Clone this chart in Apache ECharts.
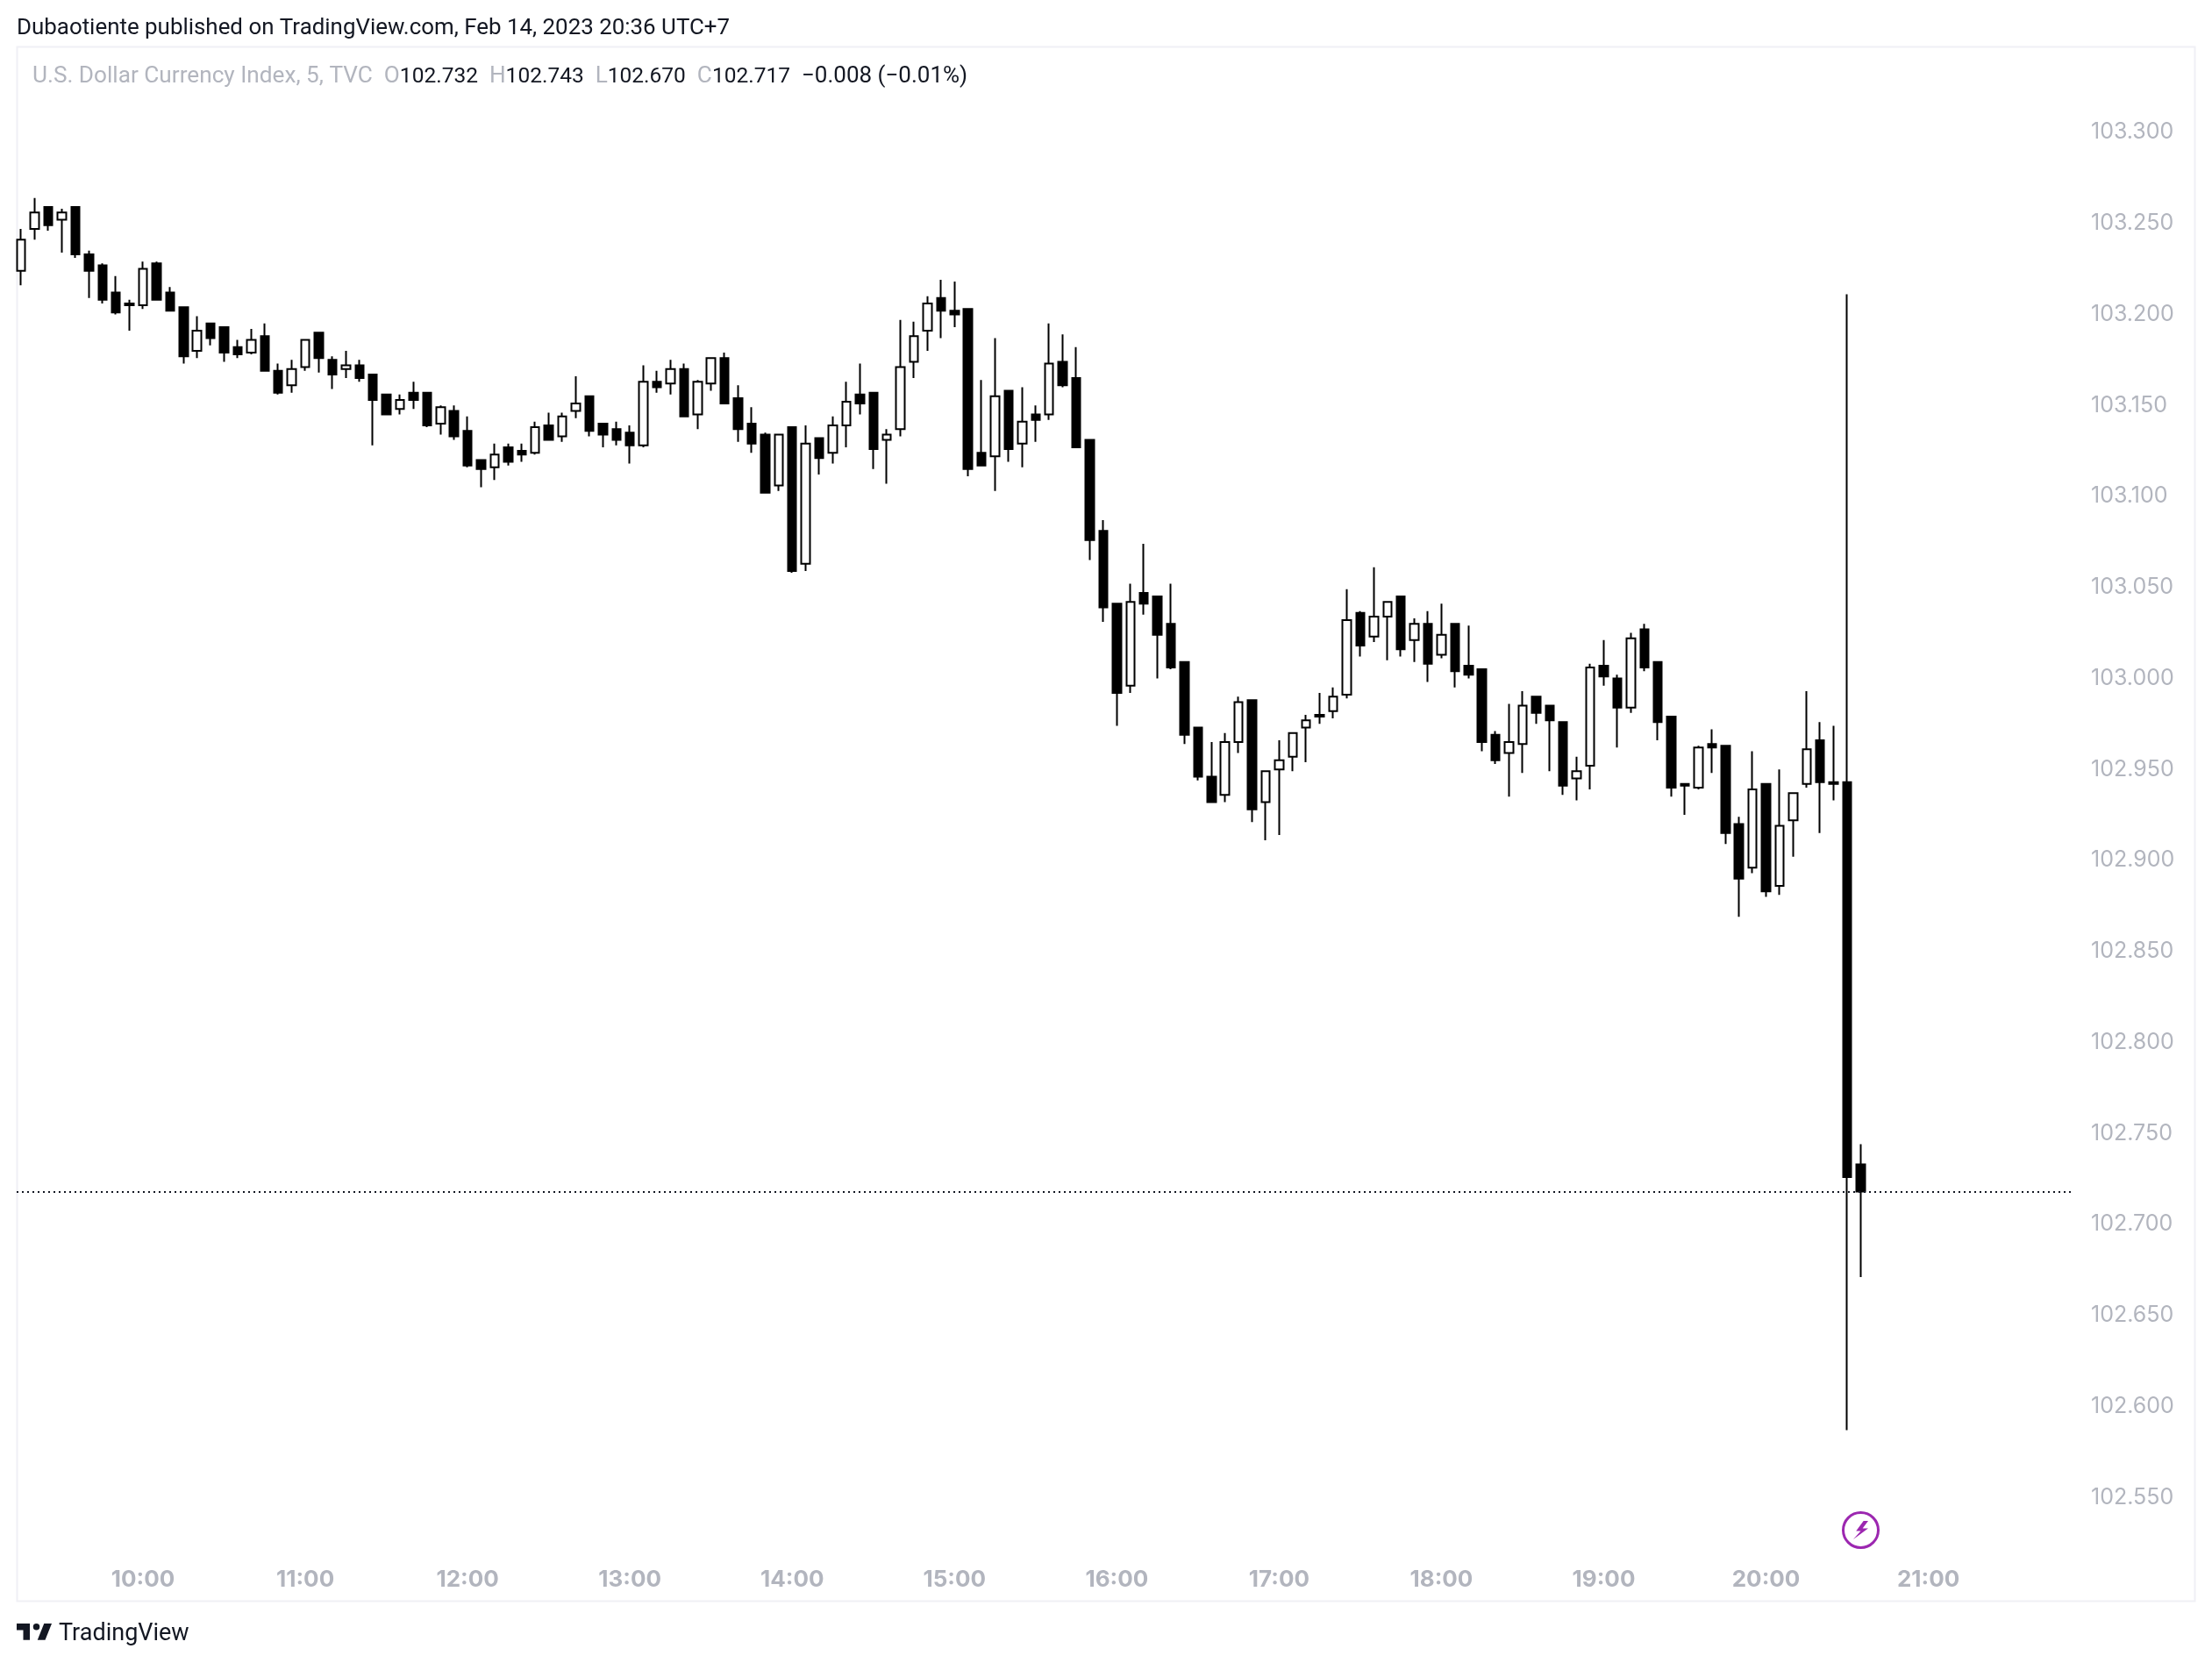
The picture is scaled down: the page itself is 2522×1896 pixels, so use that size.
<!DOCTYPE html>
<html>
<head>
<meta charset="utf-8">
<title>U.S. Dollar Currency Index, 5, TVC</title>
<script src="https://cdn.jsdelivr.net/npm/echarts@6/dist/echarts.min.js"></script>
<style>html,body{margin:0;padding:0;background:#fff}#c{width:2522px;height:1896px}</style>
</head>
<body>
<div id="c"></div>
<script>
const firstBarMinute = 555; // 09:15, 5-minute bars
const opens = [
103.223,103.246,103.258,103.251,103.258,103.232,103.226,103.211,103.205,103.204,
103.227,103.211,103.203,103.179,103.194,103.192,103.181,103.178,103.187,103.168,
103.160,103.170,103.189,103.174,103.169,103.171,103.166,103.155,103.147,103.156,
103.156,103.139,103.146,103.135,103.119,103.115,103.126,103.124,103.123,103.138,
103.132,103.146,103.154,103.139,103.136,103.134,103.127,103.162,103.161,103.169,
103.144,103.161,103.175,103.153,103.139,103.133,103.105,103.137,103.062,103.131,
103.123,103.138,103.155,103.156,103.130,103.136,103.173,103.190,103.208,103.201,
103.202,103.123,103.121,103.157,103.128,103.144,103.144,103.173,103.164,103.130,
103.080,103.040,102.995,103.046,103.044,103.029,103.008,102.972,102.945,102.935,
102.964,102.987,102.931,102.949,102.956,102.972,102.979,102.981,102.990,103.035,
103.022,103.033,103.044,103.020,103.029,103.012,103.029,103.006,103.004,102.968,
102.958,102.963,102.989,102.984,102.975,102.944,102.951,103.006,102.999,102.983,
103.026,103.008,102.978,102.941,102.939,102.963,102.962,102.919,102.895,102.941,
102.885,102.921,102.941,102.965,102.942,102.942,102.732];
const closes = [
103.240,103.255,103.248,103.255,103.232,103.223,103.207,103.200,103.204,103.224,
103.207,103.201,103.176,103.190,103.186,103.178,103.177,103.185,103.168,103.156,
103.169,103.185,103.175,103.166,103.171,103.164,103.152,103.144,103.152,103.152,
103.138,103.148,103.132,103.116,103.114,103.122,103.118,103.122,103.137,103.130,
103.143,103.150,103.135,103.133,103.130,103.127,103.162,103.159,103.169,103.143,
103.162,103.175,103.150,103.136,103.128,103.101,103.133,103.058,103.128,103.120,
103.138,103.151,103.150,103.125,103.133,103.170,103.187,103.205,103.201,103.199,
103.114,103.116,103.154,103.125,103.140,103.141,103.172,103.160,103.126,103.075,
103.038,102.991,103.041,103.040,103.023,103.005,102.968,102.945,102.931,102.964,
102.986,102.927,102.948,102.954,102.969,102.976,102.978,102.989,103.031,103.017,
103.033,103.041,103.015,103.029,103.007,103.023,103.003,103.001,102.964,102.954,
102.964,102.984,102.980,102.976,102.940,102.948,103.005,103.000,102.983,103.021,
103.005,102.975,102.939,102.940,102.961,102.961,102.914,102.889,102.938,102.882,
102.918,102.936,102.960,102.942,102.941,102.725,102.717];
const lows = [
103.215,103.240,103.245,103.233,103.230,103.208,103.205,103.199,103.190,103.202,
103.207,103.201,103.172,103.175,103.182,103.173,103.175,103.177,103.168,103.155,
103.156,103.168,103.167,103.158,103.164,103.162,103.127,103.144,103.144,103.147,
103.137,103.133,103.130,103.115,103.104,103.108,103.116,103.118,103.122,103.130,
103.129,103.142,103.132,103.126,103.127,103.117,103.126,103.156,103.155,103.143,
103.136,103.157,103.150,103.129,103.123,103.101,103.102,103.057,103.058,103.111,
103.117,103.126,103.144,103.114,103.106,103.132,103.164,103.179,103.186,103.192,
103.110,103.116,103.102,103.118,103.115,103.129,103.141,103.159,103.126,103.064,
103.030,102.973,102.991,103.034,102.999,103.004,102.963,102.943,102.931,102.931,
102.958,102.920,102.910,102.913,102.948,102.953,102.974,102.977,102.988,103.011,
103.019,103.009,103.011,103.008,102.997,103.010,102.994,102.999,102.959,102.952,
102.934,102.947,102.974,102.948,102.935,102.932,102.938,102.995,102.961,102.980,
103.003,102.965,102.934,102.924,102.938,102.947,102.908,102.868,102.892,102.879,
102.880,102.901,102.939,102.914,102.932,102.586,102.670];
const highs = [
103.246,103.263,103.258,103.257,103.258,103.234,103.227,103.220,103.207,103.228,
103.228,103.214,103.203,103.198,103.194,103.192,103.185,103.191,103.194,103.172,
103.174,103.185,103.189,103.176,103.179,103.174,103.166,103.155,103.155,103.162,
103.156,103.149,103.149,103.143,103.119,103.128,103.128,103.128,103.140,103.145,
103.145,103.165,103.154,103.139,103.140,103.138,103.171,103.168,103.174,103.172,
103.163,103.175,103.178,103.160,103.148,103.134,103.133,103.137,103.138,103.131,
103.143,103.162,103.172,103.156,103.136,103.196,103.195,103.209,103.218,103.217,
103.202,103.163,103.186,103.157,103.159,103.149,103.194,103.188,103.181,103.130,
103.086,103.040,103.051,103.073,103.044,103.051,103.008,102.972,102.964,102.969,
102.989,102.987,102.948,102.965,102.969,102.979,102.991,102.994,103.048,103.036,
103.060,103.041,103.044,103.032,103.036,103.040,103.029,103.028,103.004,102.970,
102.985,102.992,102.989,102.984,102.975,102.956,103.007,103.020,103.001,103.024,
103.029,103.008,102.978,102.941,102.962,102.971,102.962,102.923,102.959,102.941,
102.949,102.936,102.992,102.975,102.973,103.210,102.743];
const xTickMinutes = [600,660,720,780,840,900,960,1020,1080,1140,1200,1260];
const yTickPrices = [102.55,102.6,102.65,102.7,102.75,102.8,102.85,102.9,102.95,103,103.05,103.1,103.15,103.2,103.25,103.3];
const lastClose = 102.717;
const alertMinute = 1235;
const alertPrice = 102.531;
const headline = 'Dubaotiente published on TradingView.com, Feb 14, 2023 20:36 UTC+7';
const symbolName = 'U.S. Dollar Currency Index, 5, TVC';
const ohlcText = [['O','102.732'],['H','102.743'],['L','102.670'],['C','102.717']];
const changeText = '\u22120.008 (\u22120.01%)';

const candles = opens.map((o,i)=>[firstBarMinute+5*i,o,closes[i],lows[i],highs[i]]);
const hhmm = m => String(Math.floor(m/60)).padStart(2,'0')+':'+String(m%60).padStart(2,'0');
const UI = 'Inter';
const legendRich = {
  g:{fill:'#b2b5be',fontFamily:'Roboto',fontSize:26.2},
  k:{fill:'#131722',fontFamily:'Roboto',fontSize:24.5},
  c:{fill:'#131722',fontFamily:'Roboto',fontSize:26}
};
let legendStr = '{g|'+symbolName+'  }';
ohlcText.forEach(p=>{legendStr += '{g|'+p[0]+'}{k|'+p[1]+'}{g|  }';});
legendStr += '{c|'+changeText+'}';

const chart = echarts.init(document.getElementById('c'),null,{renderer:'canvas',width:2522,height:1896});
chart.setOption({
  animation:false,
  backgroundColor:'#ffffff',
  grid:{left:19,top:53,width:2344,height:1727,containLabel:false},
  xAxis:{type:'value',min:553.3,max:1313.3,scale:true,
    axisLine:{show:false},axisTick:{show:false},splitLine:{show:false},
    axisLabel:{customValues:xTickMinutes,formatter:v=>hhmm(v),color:'#b2b5be',fontFamily:UI,fontSize:26,fontWeight:700,margin:8,hideOverlap:false,showMinLabel:true,showMaxLabel:true}},
  yAxis:{type:'value',position:'right',min:102.5139,max:103.3462,scale:true,
    axisLine:{show:false},axisTick:{show:false},splitLine:{show:false},
    axisLabel:{customValues:yTickPrices,formatter:v=>'{p|'+v.toFixed(3)+'}',margin:21,hideOverlap:false,
      rich:{p:{color:'#b2b5be',fontFamily:UI,fontSize:25,padding:[4,0,0,0]}}}},
  series:[{
    type:'candlestick',
    data:candles,
    encode:{x:0,y:[1,2,3,4]},
    barWidth:10,
    clip:true,
    itemStyle:{color:'#ffffff',color0:'#000000',borderColor:'#000000',borderColor0:'#000000',borderWidth:2},
    markLine:{silent:true,symbol:'none',animation:false,precision:3,label:{show:false},
      lineStyle:{color:'#131722',type:[2,4],width:2},
      data:[{yAxis:lastClose}]},
    markPoint:{silent:true,animation:false,label:{show:false},
      data:[
        {coord:[alertMinute,alertPrice],symbol:'circle',symbolSize:40,itemStyle:{color:'#ffffff',borderColor:'#9c27b0',borderWidth:3}},
        {coord:[alertMinute,alertPrice],symbol:'path://M11 0 L3 11 L8 11 L0 20 L16 8 L10 8 L16 0 Z',symbolSize:[17,21],itemStyle:{color:'#9c27b0'}}
      ]}
  }],
  graphic:[
    {type:'rect',z:-1,shape:{x:19.5,y:53.5,width:2483,height:1772},style:{fill:'none',stroke:'#f0f0f5',lineWidth:2}},
    {type:'text',x:19,y:20,style:{text:headline,fill:'#131722',fontFamily:'Roboto',fontSize:25.9,textVerticalAlign:'top'}},
    {type:'text',x:37,y:74.5,style:{text:legendStr,rich:legendRich,fontFamily:'Roboto',fontSize:26,textVerticalAlign:'top'}},
    {type:'group',x:16.5,y:1843.5,scaleX:1.25,scaleY:1.25,children:[
      {type:'polygon',shape:{points:[[2,6],[14,6],[14,21],[8,21],[8,12],[2,12]]},style:{fill:'#131722'}},
      {type:'polygon',shape:{points:[[28,21],[21,21],[27,6],[34,6]]},style:{fill:'#131722'}},
      {type:'circle',shape:{cx:20,cy:9,r:3},style:{fill:'#131722'}}
    ]},
    {type:'text',x:67,y:1850,style:{text:'TradingView',fill:'#131722',fontFamily:'Roboto',fontSize:27,textVerticalAlign:'top'}}
  ]
});
</script>
</body>
</html>
